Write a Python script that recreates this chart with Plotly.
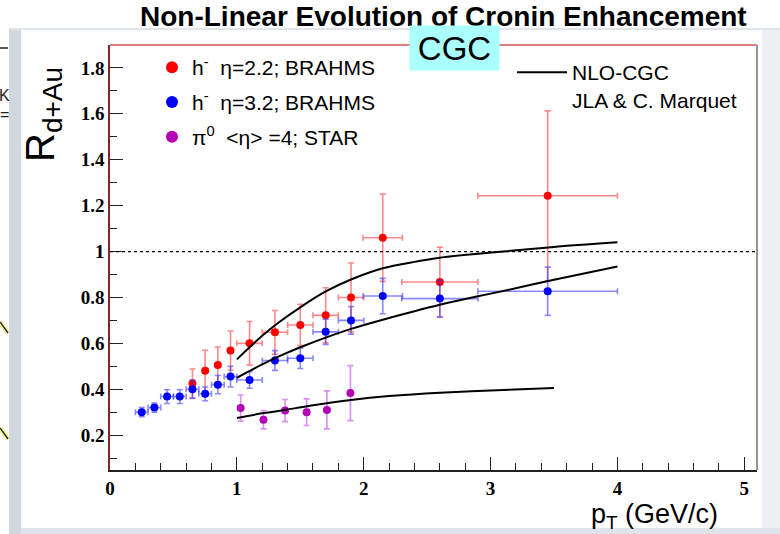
import plotly.graph_objects as go

# ---------------- data ----------------
red_x = [0.65, 0.75, 0.85, 0.95, 1.10, 1.30, 1.50, 1.70, 1.90, 2.15, 2.60, 3.45]
red_y = [0.425, 0.48, 0.506, 0.569, 0.60, 0.648, 0.68, 0.722, 0.80, 1.06, 0.867, 1.243]
red_ey = [0.063, 0.09, 0.078, 0.085, 0.095, 0.095, 0.09, 0.12, 0.15, 0.19, 0.152, 0.37]
red_ex = [0, 0, 0, 0, 0.1, 0.1, 0.1, 0.1, 0.1, 0.155, 0.3, 0.55]

blue_x = [0.25, 0.35, 0.45, 0.55, 0.65, 0.75, 0.85, 0.95, 1.10, 1.30, 1.50, 1.70, 1.90, 2.15, 2.60, 3.45]
blue_y = [0.30, 0.32, 0.368, 0.368, 0.40, 0.38, 0.42, 0.455, 0.44, 0.525, 0.535, 0.65, 0.70, 0.806, 0.795, 0.827]
blue_ey = [0.02, 0.02, 0.03, 0.03, 0.04, 0.03, 0.04, 0.045, 0.036, 0.043, 0.045, 0.055, 0.06, 0.077, 0.08, 0.105]
blue_ex = [0.05, 0.05, 0.05, 0.05, 0.05, 0.05, 0.05, 0.05, 0.1, 0.1, 0.1, 0.1, 0.1, 0.155, 0.3, 0.55]

mag_x = [1.03, 1.21, 1.38, 1.55, 1.71, 1.895]
mag_y = [0.318, 0.267, 0.307, 0.30, 0.31, 0.383]
mag_ey = [0.057, 0.04, 0.048, 0.058, 0.083, 0.12]

cgc_hi_x = [1.0, 1.1, 1.2, 1.34, 1.5, 1.7, 1.9, 2.15, 2.4, 2.6, 2.9, 3.1, 3.5, 4.0]
cgc_hi_y = [0.53, 0.583, 0.633, 0.695, 0.757, 0.826, 0.878, 0.927, 0.955, 0.973, 0.99, 1.0, 1.02, 1.04]
cgc_mid_x = [1.0, 1.2, 1.34, 1.5, 1.7, 1.9, 2.15, 2.4, 2.6, 2.9, 3.1, 3.5, 4.0]
cgc_mid_y = [0.45, 0.508, 0.545, 0.583, 0.625, 0.663, 0.703, 0.74, 0.768, 0.805, 0.828, 0.877, 0.935]
cgc_lo_x = [1.0, 1.2, 1.34, 1.6, 1.9, 2.2, 2.6, 3.1, 3.5]
cgc_lo_y = [0.275, 0.295, 0.306, 0.33, 0.353, 0.37, 0.385, 0.397, 0.405]

x_range = [0, 5.1]
y_range = [0.048, 1.9]

# ---------------- layout helpers (pixel -> paper) ----------------
L, R, T, B = 110, 757, 45, 470
W, H = 780, 534
def px(x):
    return (x - L) / (R - L)
def py(y):
    return (B - y) / (B - T)

fig = go.Figure()

SP = "\u00a0"
series = [
    (red_x, red_y, red_ey, red_ex, "#ff0000", "rgba(255,40,40,0.55)", "h<sup>-</sup>" + SP * 2 + "η=2.2; BRAHMS"),
    (blue_x, blue_y, blue_ey, blue_ex, "#0000ff", "rgba(40,40,255,0.55)", "h<sup>-</sup>" + SP * 2 + "η=3.2; BRAHMS"),
    (mag_x, mag_y, mag_ey, None, "#b400b4", "rgba(200,80,240,0.65)", "π<sup>0</sup>" + SP * 2 + "&lt;η&gt; =4; STAR"),
]
for i, (xs, ys, ey, ex, col, ecol, name) in enumerate(series):
    fig.add_trace(go.Scatter(
        x=xs, y=ys, mode="markers", name=name,
        marker=dict(color=col, size=8),
        error_y=dict(type="data", array=ey, color=ecol, thickness=1.6, width=3),
        error_x=(dict(type="data", array=ex, color=ecol, thickness=1.6, width=3) if ex else None),
        legend="legend", legendgroup="g%d" % i,
    ))

for j, (cx, cy) in enumerate([(cgc_hi_x, cgc_hi_y), (cgc_mid_x, cgc_mid_y), (cgc_lo_x, cgc_lo_y)]):
    fig.add_trace(go.Scatter(
        x=cx, y=cy, mode="lines", line=dict(color="black", width=2, shape="spline", smoothing=0.8),
        name="NLO-CGC<br>JLA & C. Marquet", legend="legend2",
        showlegend=(j == 0),
    ))

shapes = []
# outer slide panel (background decoration)
shapes.append(dict(type="rect", xref="paper", yref="paper", layer="below",
                   x0=px(9), x1=px(780), y0=py(534), y1=py(28),
                   fillcolor="#dfe4ea", line=dict(width=0)))
shapes.append(dict(type="rect", xref="paper", yref="paper", layer="below",
                   x0=px(21), x1=px(762), y0=py(528), y1=py(30),
                   fillcolor="white", line=dict(width=0)))
shapes.append(dict(type="rect", xref="paper", yref="paper", layer="below",
                   x0=px(9), x1=px(21), y0=py(534), y1=py(30),
                   fillcolor="#d0d7df", line=dict(width=0)))
shapes.append(dict(type="rect", xref="paper", yref="paper", layer="below",
                   x0=px(762), x1=px(780), y0=py(528), y1=py(30),
                   fillcolor="#eef0f2", line=dict(width=0)))
# fragments of neighbouring slide at far left
shapes.append(dict(type="line", xref="paper", yref="paper", layer="below",
                   x0=px(0), x1=px(8), y0=py(48), y1=py(48), line=dict(color="#222", width=1.5)))
for (y0, y1) in [(322, 333), (428, 439)]:
    shapes.append(dict(type="line", xref="paper", yref="paper", layer="below",
                       x0=px(0), x1=px(8), y0=py(y0), y1=py(y1), line=dict(color="#f4f0a0", width=5)))
    shapes.append(dict(type="line", xref="paper", yref="paper", layer="below",
                       x0=px(0), x1=px(8), y0=py(y0), y1=py(y1), line=dict(color="#222", width=1.3)))
# reference line at R = 1
shapes.append(dict(type="line", xref="paper", yref="y", x0=0, x1=1, y0=1, y1=1,
                   line=dict(color="black", width=1.3, dash="dot")))
# frame: top (red) and right (gray)
shapes.append(dict(type="line", xref="paper", yref="paper", x0=0, x1=1, y0=1, y1=1,
                   line=dict(color="#cc5555", width=1.6)))
shapes.append(dict(type="line", xref="paper", yref="paper", x0=1, x1=1, y0=0, y1=1,
                   line=dict(color="#8a8a8a", width=1.8)))

annotations = [
    dict(text="<b>Non-Linear Evolution of Cronin Enhancement</b>", x=px(443), y=py(17),
         xref="paper", yref="paper", showarrow=False, xanchor="center", yanchor="middle",
         font=dict(family="Liberation Sans", size=28, color="black")),
    dict(text="CGC", x=px(454.5), y=py(48), xref="paper", yref="paper", showarrow=False,
         xanchor="center", yanchor="middle", width=87, height=42, bgcolor="#aaffff",
         font=dict(family="Liberation Sans", size=33, color="black")),
    dict(text="R<sub>d+Au</sub>", x=px(43), y=py(115), xref="paper", yref="paper", showarrow=False,
         textangle=-90, xanchor="center", yanchor="middle",
         font=dict(family="Liberation Sans", size=40, color="black")),
    dict(text="p<sub>T</sub> (GeV/c)", x=px(720), y=py(516), xref="paper", yref="paper", showarrow=False,
         xanchor="right", yanchor="middle",
         font=dict(family="Liberation Sans", size=27, color="black")),
    dict(text="K", x=px(4), y=py(95), xref="paper", yref="paper", showarrow=False,
         xanchor="center", yanchor="middle", font=dict(family="Liberation Sans", size=16, color="#222")),
    dict(text="=", x=px(4), y=py(114), xref="paper", yref="paper", showarrow=False,
         xanchor="center", yanchor="middle", font=dict(family="Liberation Sans", size=16, color="#222")),
]

tickfont = dict(family="Liberation Serif", size=19, color="black", weight="bold")
fig.update_layout(
    width=W, height=H,
    margin=dict(l=L, r=W - R, t=T, b=H - B, pad=0),
    paper_bgcolor="white", plot_bgcolor="white",
    xaxis=dict(range=x_range, dtick=1, tick0=0, ticks="inside", ticklen=13, tickwidth=1.2,
               tickcolor="#222", showline=True, linecolor="#222", linewidth=1.6,
               showgrid=False, zeroline=False, tickfont=tickfont,
               minor=dict(dtick=0.2, ticks="inside", ticklen=7, tickcolor="#222", showgrid=False)),
    yaxis=dict(range=y_range, dtick=0.2, tick0=0, ticks="inside", ticklen=13, tickwidth=1.2,
               tickcolor="#222", showline=True, linecolor="#7a2a2a", linewidth=1.6,
               showgrid=False, zeroline=False, tickfont=tickfont,
               minor=dict(dtick=0.1, ticks="inside", ticklen=7, tickcolor="#222", showgrid=False)),
    legend=dict(x=px(152), y=py(47), xanchor="left", yanchor="top", bgcolor="rgba(0,0,0,0)",
                font=dict(family="Liberation Sans", size=21, color="black"),
                traceorder="grouped", tracegroupgap=4.5, itemsizing="constant"),
    legend2=dict(x=px(512), y=py(52), xanchor="left", yanchor="top", bgcolor="rgba(0,0,0,0)",
                 font=dict(family="Liberation Sans", size=21, color="black"),
                 valign="top", itemwidth=50),
    shapes=shapes, annotations=annotations,
)

fig.write_html("out.html")
